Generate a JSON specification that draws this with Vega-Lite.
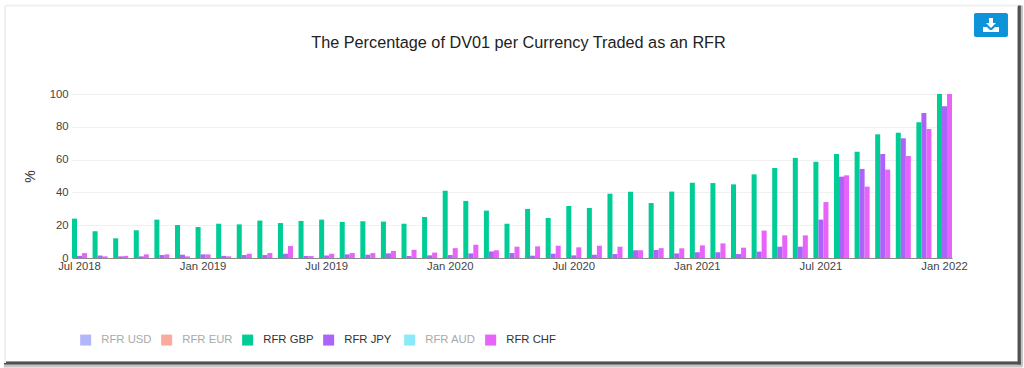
{
"$schema":"https://vega.github.io/schema/vega-lite/v6.json",
"width":880,"height":164,
"padding":{"left":72,"top":94,"right":72,"bottom":110},
"autosize":{"type":"none"},
"background":"#ffffff",
"title":{"text":"The Percentage of DV01 per Currency Traded as an RFR","font":"Liberation Sans","fontSize":16.25,"fontWeight":"normal","color":"#222222","anchor":"middle","offset":0,"dy":49,"dx":6.5},
"config":{"font":"Liberation Sans","view":{"stroke":null}},
"datasets":{"rfr":[
{"month":"Jul 2018","GBP":24,"JPY":1.3,"CHF":3},{"month":"Aug 2018","GBP":16.3,"JPY":1.5,"CHF":1},{"month":"Sep 2018","GBP":12,"JPY":1,"CHF":1.3},{"month":"Oct 2018","GBP":16.9,"JPY":1,"CHF":2.2},{"month":"Nov 2018","GBP":23.4,"JPY":1.8,"CHF":2.2},{"month":"Dec 2018","GBP":20.1,"JPY":2,"CHF":1},
{"month":"Jan 2019","GBP":18.9,"JPY":2.2,"CHF":2.2},{"month":"Feb 2019","GBP":20.9,"JPY":1.3,"CHF":1},{"month":"Mar 2019","GBP":20.5,"JPY":1.8,"CHF":2.6},{"month":"Apr 2019","GBP":22.8,"JPY":1.8,"CHF":3},{"month":"May 2019","GBP":21.3,"JPY":2.6,"CHF":7.3},{"month":"Jun 2019","GBP":22.6,"JPY":1.2,"CHF":1.2},
{"month":"Jul 2019","GBP":23.4,"JPY":1.6,"CHF":2.6},{"month":"Aug 2019","GBP":22,"JPY":2.2,"CHF":3},{"month":"Sep 2019","GBP":22.4,"JPY":2,"CHF":3},{"month":"Oct 2019","GBP":22.2,"JPY":2.8,"CHF":4.3},{"month":"Nov 2019","GBP":20.9,"JPY":1.2,"CHF":5},{"month":"Dec 2019","GBP":25,"JPY":1.6,"CHF":3.3},
{"month":"Jan 2020","GBP":41,"JPY":1.8,"CHF":6},{"month":"Feb 2020","GBP":34.8,"JPY":2.8,"CHF":8.1},{"month":"Mar 2020","GBP":28.9,"JPY":4,"CHF":4.7},{"month":"Apr 2020","GBP":20.9,"JPY":3,"CHF":6.9},{"month":"May 2020","GBP":29.9,"JPY":1.4,"CHF":7.1},{"month":"Jun 2020","GBP":24.4,"JPY":2.6,"CHF":7.5},
{"month":"Jul 2020","GBP":31.7,"JPY":1.6,"CHF":6.5},{"month":"Aug 2020","GBP":30.5,"JPY":2,"CHF":7.5},{"month":"Sep 2020","GBP":39.2,"JPY":2.4,"CHF":6.9},{"month":"Oct 2020","GBP":40.4,"JPY":4.7,"CHF":4.7},{"month":"Nov 2020","GBP":33.5,"JPY":4.9,"CHF":6},{"month":"Dec 2020","GBP":40.5,"JPY":2.8,"CHF":5.9},
{"month":"Jan 2021","GBP":45.9,"JPY":3.5,"CHF":7.7},{"month":"Feb 2021","GBP":45.7,"JPY":3.5,"CHF":8.9},{"month":"Mar 2021","GBP":44.9,"JPY":2.4,"CHF":6.3},{"month":"Apr 2021","GBP":51,"JPY":3.9,"CHF":16.7},{"month":"May 2021","GBP":54.9,"JPY":6.9,"CHF":13.8},{"month":"Jun 2021","GBP":61,"JPY":6.9,"CHF":13.8},
{"month":"Jul 2021","GBP":58.7,"JPY":23.4,"CHF":34.1},{"month":"Aug 2021","GBP":63.4,"JPY":49.6,"CHF":50.4},{"month":"Sep 2021","GBP":64.8,"JPY":54.3,"CHF":43.5},{"month":"Oct 2021","GBP":75.4,"JPY":63.4,"CHF":53.9},{"month":"Nov 2021","GBP":76.4,"JPY":73,"CHF":62.2},{"month":"Dec 2021","GBP":82.7,"JPY":88.4,"CHF":78.7},
{"month":"Jan 2022","GBP":100,"JPY":92.5,"CHF":100}
]},
"data":{"name":"rfr"},
"layer":[{
"transform":[{"fold":["GBP","JPY","CHF"],"as":["ccy","pct"]},{"calculate":"'RFR '+datum.ccy","as":"series"}],
"mark":{"type":"bar","clip":false},
"encoding":{
"x":{"field":"month","type":"nominal","sort":null,"scale":{"paddingInner":0.27,"paddingOuter":0},
"axis":{"title":null,"values":["Jul 2018","Jan 2019","Jul 2019","Jan 2020","Jul 2020","Jan 2021","Jul 2021","Jan 2022"],"labelAngle":0,"ticks":false,"labelFontSize":11.3,"labelColor":"#444444","labelPadding":2,"labelFont":"Liberation Sans","domainColor":"#8a8a8a","domainWidth":1,"grid":false,"labelBound":false,"labelOverlap":false,"labelFlush":false}},
"xOffset":{"field":"series","type":"nominal","sort":["RFR GBP","RFR JPY","RFR CHF"],"scale":{"domain":["RFR GBP","RFR JPY","RFR CHF"],"paddingInner":0,"paddingOuter":0}},
"y":{"field":"pct","type":"quantitative","scale":{"domain":[0,100],"nice":false},
"axis":{"title":"%","titleFontSize":14,"titleFontWeight":"normal","titleColor":"#333333","titlePadding":12,"values":[0,20,40,60,80,100],"ticks":false,"domain":false,"labelFontSize":11.3,"labelColor":"#444444","labelPadding":4,"grid":true,"gridColor":"#f0f0f0","gridWidth":1}},
"color":{"field":"series","type":"nominal","scale":{"domain":["RFR USD","RFR EUR","RFR GBP","RFR JPY","RFR AUD","RFR CHF"],"range":["#B2B7FC","#FBAA9D","#00CC96","#AB63FA","#8CE9F9","#E763FA"]},
"legend":{"title":null,"orient":"none","legendX":8,"legendY":240,"direction":"horizontal","columns":6,"gridAlign":"all","symbolType":"square","symbolSize":121,"symbolStrokeWidth":0,"symbolOpacity":1,"labelFontSize":11.3,"labelOffset":10,"columnPadding":9,"padding":0,
"encode":{"labels":{"update":{"fill":{"signal":"indexof(['RFR USD','RFR EUR','RFR AUD'],datum.label)>=0 ? '#aaaaaa' : '#333333'"}}}}}}
}
},
{"data":{"values":[{}]},"mark":{"type":"rule","stroke":"#c4c4c4","strokeWidth":6,"clip":false},"encoding":{"x":{"datum":1.0773,"scale":{"domain":[0,1]},"axis":null},"y":{"datum":1.54,"scale":{"domain":[0,1]},"axis":null},"y2":{"datum":-0.66}}},
{"data":{"values":[{}]},"mark":{"type":"rule","stroke":"#c4c4c4","strokeWidth":6,"clip":false},"encoding":{"x":{"datum":-0.0773,"scale":{"domain":[0,1]},"axis":null},"x2":{"datum":1.08},"y":{"datum":-0.65,"scale":{"domain":[0,1]},"axis":null}}},
{"data":{"values":[{}]},"mark":{"type":"rule","stroke":"#505050","strokeWidth":3,"clip":false},"encoding":{"x":{"datum":1.0765,"scale":{"domain":[0,1]},"axis":null},"y":{"datum":1.54,"scale":{"domain":[0,1]},"axis":null},"y2":{"datum":-0.65}}},
{"data":{"values":[{}]},"mark":{"type":"rule","stroke":"#505050","strokeWidth":3,"clip":false},"encoding":{"x":{"datum":-0.0773,"scale":{"domain":[0,1]},"axis":null},"x2":{"datum":1.078},"y":{"datum":-0.64,"scale":{"domain":[0,1]},"axis":null}}},
{"data":{"values":[{}]},"mark":{"type":"rule","stroke":"#f0f0f0","strokeWidth":2,"clip":false},"encoding":{"x":{"datum":-0.0761,"scale":{"domain":[0,1]},"axis":null},"y":{"datum":1.54,"scale":{"domain":[0,1]},"axis":null},"y2":{"datum":-0.64}}},
{"data":{"values":[{}]},"mark":{"type":"rule","stroke":"#f0f0f0","strokeWidth":2,"clip":false},"encoding":{"x":{"datum":-0.0761,"scale":{"domain":[0,1]},"axis":null},"x2":{"datum":1.075},"y":{"datum":1.54,"scale":{"domain":[0,1]},"axis":null}}},
{"data":{"values":[{}]},
"mark":{"type":"point","filled":true,"opacity":1,"clip":false,"fill":"#0F93D8","size":4,"shape":"M-15,-12 h30 a2,2 0 0 1 2,2 v20 a2,2 0 0 1 -2,2 h-30 a2,2 0 0 1 -2,-2 v-20 a2,2 0 0 1 2,-2 z"},
"encoding":{"x":{"datum":1.0443,"scale":{"domain":[0,1]},"axis":null},"y":{"datum":1.42,"scale":{"domain":[0,1]},"axis":null}}},
{"data":{"values":[{}]},
"mark":{"type":"point","filled":true,"opacity":1,"clip":false,"fill":"#ffffff","size":4,"shape":"M-2,-7 h4 v5 h3 l-5,5 l-5,-5 h3 z M-8,2 h4 l3,3 h2 l3,-3 h4 v5 h-16 z"},
"encoding":{"x":{"datum":1.0443,"scale":{"domain":[0,1]},"axis":null},"y":{"datum":1.42,"scale":{"domain":[0,1]},"axis":null}}}
],
"resolve":{"scale":{"x":"independent","y":"independent"},"axis":{"x":"independent","y":"independent"}}
}
